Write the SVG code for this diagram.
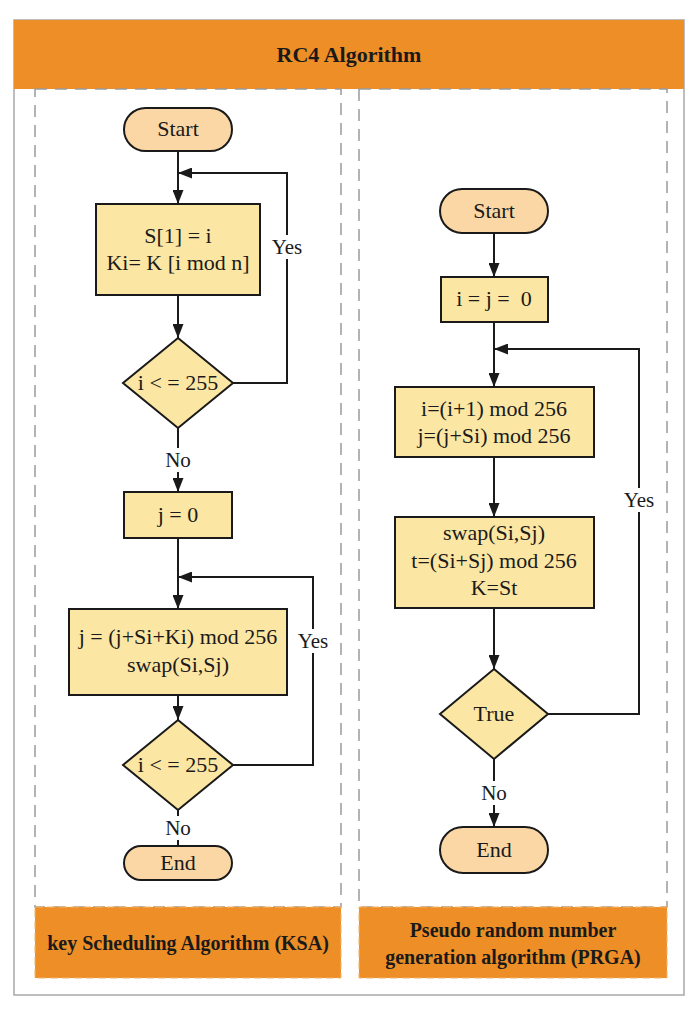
<svg xmlns="http://www.w3.org/2000/svg" width="697" height="1010" viewBox="0 0 697 1010">
<style>
.hdr{fill:#EE8E27}
.lane{fill:none;stroke:#9a9a9a;stroke-width:1.5;stroke-dasharray:12,8}
.foot{fill:#EE8E27;stroke:#f5b56a;stroke-width:1;stroke-dasharray:8,4}
.pill{fill:#FAD7A5;stroke:#1a1a1a;stroke-width:2}
.box{fill:#FCE6A3;stroke:#1a1a1a;stroke-width:2}
.t{font-family:"Liberation Serif",serif;font-size:22px;fill:#1a1a1a;text-anchor:middle;dominant-baseline:central}
.b{font-family:"Liberation Serif",serif;font-weight:bold;fill:#1a1a1a;text-anchor:middle;dominant-baseline:central}
.c{fill:none;stroke:#1a1a1a;stroke-width:2}
.lbl{font-family:"Liberation Serif",serif;font-size:21px;fill:#1a1a1a;text-anchor:middle;dominant-baseline:central}
</style>
<defs>
<marker id="ah" viewBox="0 0 14 11" refX="14" refY="5.5" markerWidth="14" markerHeight="11" markerUnits="userSpaceOnUse" orient="auto">
<path d="M0,0 L14,5.5 L0,11 z" fill="#1a1a1a"/>
</marker>
</defs>
<rect x="0" y="0" width="697" height="1010" fill="#fff"/>
<rect x="14" y="20" width="670" height="975" fill="#fff" stroke="#a8a8a8" stroke-width="1.5"/>
<g id="header">
<rect class="hdr" x="14" y="20" width="670" height="69"/>
<text class="b" x="349" y="54" font-size="22">RC4 Algorithm</text>
</g>
<g id="lanes">
<rect class="lane" x="35" y="89" width="306" height="818"/>
<rect class="lane" x="359" y="89" width="308" height="818"/>
</g>
<g id="ksa-label">
<rect class="foot" x="35" y="907" width="306" height="71"/>
<text class="b" x="188" y="943" font-size="20">key Scheduling Algorithm (KSA)</text>
</g>
<g id="prga-label">
<rect class="foot" x="359" y="907" width="308" height="71"/>
<text class="b" x="513" y="930" font-size="20">Pseudo random number</text>
<text class="b" x="513" y="957" font-size="20">generation algorithm (PRGA)</text>
</g>
<g id="connectors">
<line class="c" x1="178" y1="151" x2="178" y2="204" marker-end="url(#ah)"/>
<polyline class="c" points="233,383 287,383 287,173 178,173" marker-end="url(#ah)"/>
<line class="c" x1="178" y1="295" x2="178" y2="338" marker-end="url(#ah)"/>
<line class="c" x1="178" y1="428" x2="178" y2="492" marker-end="url(#ah)"/>
<line class="c" x1="178" y1="538" x2="178" y2="609" marker-end="url(#ah)"/>
<polyline class="c" points="233,765 313,765 313,577 178,577" marker-end="url(#ah)"/>
<line class="c" x1="178" y1="695" x2="178" y2="720" marker-end="url(#ah)"/>
<line class="c" x1="178" y1="810" x2="178" y2="846"/>
<line class="c" x1="494" y1="233" x2="494" y2="277" marker-end="url(#ah)"/>
<line class="c" x1="494" y1="322" x2="494" y2="387" marker-end="url(#ah)"/>
<polyline class="c" points="548,714 639,714 639,349 494,349" marker-end="url(#ah)"/>
<line class="c" x1="494" y1="457" x2="494" y2="517" marker-end="url(#ah)"/>
<line class="c" x1="494" y1="608" x2="494" y2="669" marker-end="url(#ah)"/>
<line class="c" x1="494" y1="759" x2="494" y2="827" marker-end="url(#ah)"/>
<rect x="268" y="235" width="38" height="24" fill="#fff"/>
<text class="lbl" x="287" y="247">Yes</text>
<rect x="294" y="629" width="38" height="24" fill="#fff"/>
<text class="lbl" x="313" y="641">Yes</text>
<rect x="620" y="488" width="38" height="24" fill="#fff"/>
<text class="lbl" x="639" y="500">Yes</text>
<rect x="162" y="448" width="32" height="24" fill="#fff"/>
<text class="lbl" x="178" y="460">No</text>
<rect x="162" y="816" width="32" height="24" fill="#fff"/>
<text class="lbl" x="178" y="828">No</text>
<rect x="478" y="781" width="32" height="24" fill="#fff"/>
<text class="lbl" x="494" y="793">No</text>
</g>
<g id="ksa-start">
<rect class="pill" x="124" y="108" width="108" height="43" rx="21.5"/>
<text class="t" x="178" y="128">Start</text>
</g>
<g id="ksa-init">
<rect class="box" x="96" y="204" width="164" height="91"/>
<text class="t" x="178" y="235">S[1] = i</text>
<text class="t" x="178" y="262">Ki= K [i mod n]</text>
</g>
<g id="ksa-cond1">
<polygon class="box" points="178,338 233,383 178,428 123,383"/>
<text class="t" x="178" y="382">i &lt; = 255</text>
</g>
<g id="ksa-j0">
<rect class="box" x="124" y="492" width="108" height="46"/>
<text class="t" x="178" y="514">j = 0</text>
</g>
<g id="ksa-swap">
<rect class="box" x="69" y="609" width="218" height="86"/>
<text class="t" x="178" y="636">j = (j+Si+Ki) mod 256</text>
<text class="t" x="178" y="664">swap(Si,Sj)</text>
</g>
<g id="ksa-cond2">
<polygon class="box" points="178,720 233,765 178,810 123,765"/>
<text class="t" x="178" y="764">i &lt; = 255</text>
</g>
<g id="ksa-end">
<rect class="pill" x="124" y="846" width="108" height="34" rx="17"/>
<text class="t" x="178" y="862">End</text>
</g>
<g id="prga-start">
<rect class="pill" x="440" y="189" width="108" height="44" rx="22"/>
<text class="t" x="494" y="210">Start</text>
</g>
<g id="prga-init">
<rect class="box" x="441" y="277" width="107" height="45"/>
<text class="t" x="494" y="298" xml:space="preserve">i = j =  0</text>
</g>
<g id="prga-inc">
<rect class="box" x="395" y="387" width="199" height="70"/>
<text class="t" x="494" y="408">i=(i+1) mod 256</text>
<text class="t" x="494" y="435">j=(j+Si) mod 256</text>
</g>
<g id="prga-swap">
<rect class="box" x="395" y="517" width="199" height="91"/>
<text class="t" x="494" y="532">swap(Si,Sj)</text>
<text class="t" x="494" y="560">t=(Si+Sj) mod 256</text>
<text class="t" x="494" y="587">K=St</text>
</g>
<g id="prga-cond">
<polygon class="box" points="494,669 548,714 494,759 440,714"/>
<text class="t" x="494" y="713">True</text>
</g>
<g id="prga-end">
<rect class="pill" x="440" y="827" width="108" height="46" rx="23"/>
<text class="t" x="494" y="849">End</text>
</g>
</svg>
